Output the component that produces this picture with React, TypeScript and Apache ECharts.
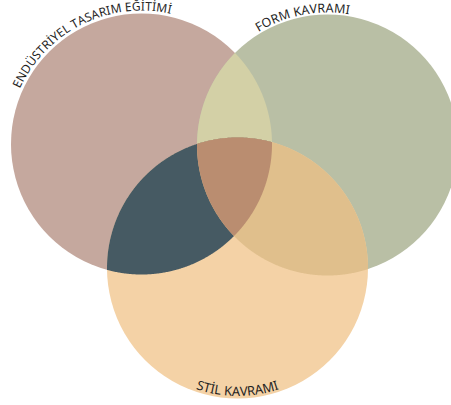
import React, { useEffect, useRef } from "react";
import * as echarts from "echarts";

// Set names (labels) and circle geometry in data units (axes span 0..451 x 0..405)
const setNames = ["ENDÜSTRİYEL TASARIM EĞİTİMİ", "FORM KAVRAMI", "STİL KAVRAMI"];
const centerX = [141.5, 327.5, 237.5];
const centerY = [144, 145, 268];
const radius = [130.5, 130.5, 130.5];
// Overlap regions (indices of the sets involved)
const overlaps = [[0, 1], [0, 2], [1, 2], [0, 1, 2]];

// Styles
const circleColors = ["#C5A89E", "#B9BFA5", "#F4D2A6"];
const overlapColors = ["#D3D0A6", "#465A63", "#E0BF8C", "#BA8D70"];
const labelAngles = [-116.5, -101, 90];
const labelInside = [false, false, true];
const labelOffset = [1.5, 0, -1];
const labelSize = [12, 12.5, 13];
const labelFamily = '"Noto Sans"';
const labelColor = "#1f1f1f";

type Circ = { x: number; y: number; r: number };

function regionPolygon(circles: Circ[]): number[][] {
  const pts: number[][] = [];
  const inside = (p: number[], skip: number) =>
    circles.every((c, j) => j === skip || Math.hypot(p[0] - c.x, p[1] - c.y) <= c.r + 1e-6);
  const N = 1440;
  circles.forEach((c, i) => {
    for (let k = 0; k < N; k++) {
      const a = (k / N) * Math.PI * 2;
      const p = [c.x + c.r * Math.cos(a), c.y + c.r * Math.sin(a)];
      if (inside(p, i)) pts.push(p);
    }
  });
  for (let i = 0; i < circles.length; i++) {
    for (let j = i + 1; j < circles.length; j++) {
      const a = circles[i], b = circles[j];
      const d = Math.hypot(b.x - a.x, b.y - a.y);
      if (d >= a.r + b.r || d <= Math.abs(a.r - b.r)) continue;
      const l = (d * d + a.r * a.r - b.r * b.r) / (2 * d);
      const h = Math.sqrt(Math.max(0, a.r * a.r - l * l));
      const ux = (b.x - a.x) / d, uy = (b.y - a.y) / d;
      const mx = a.x + ux * l, my = a.y + uy * l;
      const cands = [[mx - uy * h, my + ux * h], [mx + uy * h, my - ux * h]];
      cands.forEach((p) => {
        const ok = circles.every((c, k) => k === i || k === j || Math.hypot(p[0] - c.x, p[1] - c.y) <= c.r + 1e-6);
        if (ok) pts.push(p);
      });
    }
  }
  const cx = pts.reduce((s, p) => s + p[0], 0) / pts.length;
  const cy = pts.reduce((s, p) => s + p[1], 0) / pts.length;
  pts.sort((p, q) => Math.atan2(p[1] - cy, p[0] - cx) - Math.atan2(q[1] - cy, q[0] - cx));
  return pts;
}

let measureCtx: CanvasRenderingContext2D | null = null;
function measure(ch: string, font: string): number {
  if (!measureCtx) measureCtx = document.createElement("canvas").getContext("2d");
  measureCtx!.font = font;
  return measureCtx!.measureText(ch).width;
}

export default function App() {
  const ref = useRef<HTMLDivElement>(null);
  useEffect(() => {
    if (!ref.current) return;
    const chart = echarts.init(ref.current, undefined, { renderer: "svg" });
    const pixCircle = (api: any, i: number): Circ => {
      const c = api.coord([centerX[i], centerY[i]]);
      const r = api.size([radius[i], 0])[0];
      return { x: c[0], y: c[1], r };
    };
    const option: any = {
      animation: false,
      backgroundColor: "#ffffff",
      grid: { left: 0, right: 0, top: 0, bottom: 0 },
      xAxis: { type: "value", min: 0, max: 451, show: false },
      yAxis: { type: "value", min: 0, max: 405, inverse: true, show: false },
      series: [
        {
          type: "custom",
          name: "sets",
          clip: false,
          data: setNames.map((n, i) => ({ name: n, value: [centerX[i], centerY[i], radius[i]] })),
          renderItem: (params: any, api: any) => {
            const c = api.coord([api.value(0), api.value(1)]);
            const r = api.size([api.value(2), 0])[0];
            return {
              type: "circle",
              shape: { cx: c[0], cy: c[1], r },
              style: { fill: circleColors[params.dataIndex] },
            };
          },
        },
        {
          type: "custom",
          name: "overlaps",
          clip: false,
          data: overlaps.map((ids) => ({
            value: [
              ids.reduce((s, i) => s + centerX[i], 0) / ids.length,
              ids.reduce((s, i) => s + centerY[i], 0) / ids.length,
            ],
          })),
          renderItem: (params: any, api: any) => {
            const ids = overlaps[params.dataIndex];
            const circles = ids.map((i) => pixCircle(api, i));
            return {
              type: "polygon",
              shape: { points: regionPolygon(circles) },
              style: { fill: overlapColors[params.dataIndex] },
            };
          },
        },
        {
          type: "custom",
          name: "labels",
          clip: false,
          data: setNames.map((n, i) => ({ name: n, value: [centerX[i], centerY[i], radius[i]] })),
          renderItem: (params: any, api: any) => {
            const i = params.dataIndex;
            const c = pixCircle(api, i);
            const inside = labelInside[i];
            const R = c.r + labelOffset[i];
            const size = labelSize[i];
            const font = `${size}px ${labelFamily}`;
            const chars = Array.from(setNames[i]);
            const widths = chars.map((ch) => measure(ch, font));
            const total = widths.reduce((s, w) => s + w, 0);
            const phi0 = (labelAngles[i] * Math.PI) / 180;
            const dir = inside ? -1 : 1;
            let s = -total / 2;
            const children = chars.map((ch, k) => {
              const mid = s + widths[k] / 2;
              s += widths[k];
              const phi = phi0 + (dir * mid) / R;
              const x = c.x + R * Math.cos(phi);
              const y = c.y + R * Math.sin(phi);
              const rot = inside ? Math.PI / 2 - phi : -Math.PI / 2 - phi;
              return {
                type: "text",
                x,
                y,
                rotation: rot,
                style: {
                  text: ch,
                  fill: labelColor,
                  fontSize: size,
                  fontFamily: labelFamily,
                  align: "center",
                  verticalAlign: "bottom",
                  textAlign: "center",
                  textVerticalAlign: "bottom",
                },
              };
            });
            return { type: "group", children };
          },
        },
      ],
    };
    chart.setOption(option);
    return () => chart.dispose();
  }, []);
  return (
    <div
      ref={ref}
      style={{ position: "absolute", left: 0, top: 0, width: 451, height: 405, background: "#fff" }}
    />
  );
}
